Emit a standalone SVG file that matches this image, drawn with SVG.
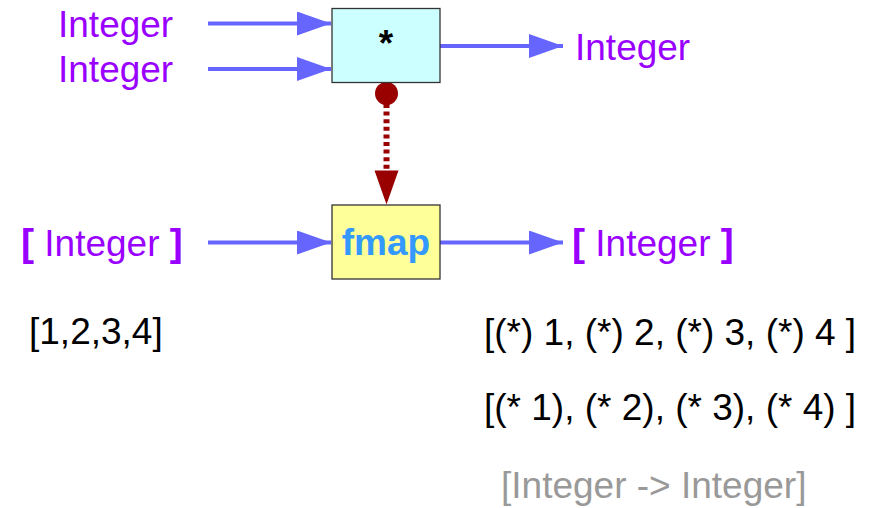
<svg xmlns="http://www.w3.org/2000/svg" width="873" height="508" viewBox="0 0 873 508">
  <defs>
    <style>
      .lbl { font-family: "Liberation Sans", Arial, sans-serif; font-size: 37px; }
      .type { fill: #9900ff; }
      .brk { font-weight: bold; font-size: 39px; }
      .val { fill: #000000; }
      .note { fill: #999999; }
      .flow { stroke: #6666ff; stroke-width: 4; fill: none; }
      .node { stroke: #333333; stroke-width: 1.3; }
    </style>
    <marker id="flowHead" markerUnits="userSpaceOnUse" markerWidth="34" markerHeight="24" refX="34" refY="12" orient="auto">
      <path d="M0,0 L34,12 L0,24 Z" fill="#6666ff"/>
    </marker>
  </defs>

  <!-- input / output type labels -->
  <g id="labels">
    <text class="lbl type" x="58" y="37">Integer</text>
    <text class="lbl type" x="58" y="82">Integer</text>
    <text class="lbl type" x="575" y="60">Integer</text>
    <text class="lbl type" x="21" y="256"><tspan class="brk">[</tspan> Integer <tspan class="brk">]</tspan></text>
    <text class="lbl type" x="572" y="256"><tspan class="brk">[</tspan> Integer <tspan class="brk">]</tspan></text>
    <text class="lbl val" x="29" y="344">[1,2,3,4]</text>
    <text class="lbl val" x="484" y="345">[(*) 1, (*) 2, (*) 3, (*) 4 ]</text>
    <text class="lbl val" x="484" y="420">[(* 1), (* 2), (* 3), (* 4) ]</text>
    <text class="lbl note" x="501" y="498">[Integer -&gt; Integer]</text>
  </g>

  <!-- connectors -->
  <g id="connectors">
    <line class="flow" x1="208" y1="23.5" x2="331" y2="23.5" marker-end="url(#flowHead)"/>
    <line class="flow" x1="208" y1="69" x2="331" y2="69" marker-end="url(#flowHead)"/>
    <line class="flow" x1="440" y1="46" x2="563" y2="46" marker-end="url(#flowHead)"/>
    <line class="flow" x1="208" y1="242.5" x2="331" y2="242.5" marker-end="url(#flowHead)"/>
    <line class="flow" x1="440" y1="242.5" x2="563" y2="242.5" marker-end="url(#flowHead)"/>
    <circle cx="386.5" cy="93.5" r="11.5" fill="#990000"/>
    <line x1="386.5" y1="104" x2="386.5" y2="172" stroke="#990000" stroke-width="6" stroke-dasharray="4 3.6"/>
    <path d="M374.5,170.5 L398.5,170.5 L386.5,204.5 Z" fill="#990000"/>
  </g>

  <!-- multiply node -->
  <g id="mul">
    <rect class="node" x="332" y="8.5" width="108" height="74" fill="#ccffff"/>
    <text class="lbl" x="386" y="56" text-anchor="middle" font-weight="bold" font-size="39" fill="#000000">*</text>
  </g>

  <!-- fmap node -->
  <g id="fmap">
    <rect class="node" x="332" y="205" width="108" height="74" fill="#ffff99"/>
    <text class="lbl" x="386" y="255" text-anchor="middle" font-weight="bold" font-size="38" fill="#3399ff">fmap</text>
  </g>
</svg>
